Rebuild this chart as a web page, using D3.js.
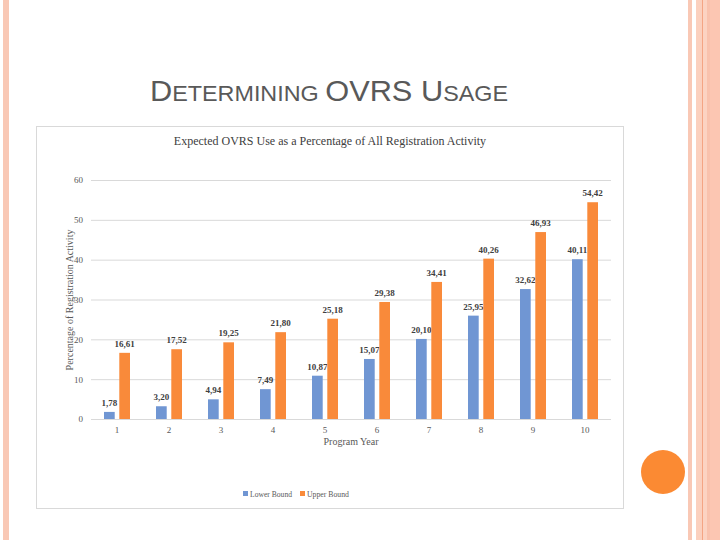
<!DOCTYPE html>
<html>
<head>
<meta charset="utf-8">
<script src="https://cdn.jsdelivr.net/npm/d3@7"></script>
<style>
  body{margin:0;background:#fff;}
  svg{display:block;}
</style>
</head>
<body>
<div class="container"></div>
<script>
// chart values
const years=["1","2","3","4","5","6","7","8","9","10"];
const lowerBound=[1.78,3.20,4.94,7.49,10.87,15.07,20.10,25.95,32.62,40.11];
const upperBound=[16.61,17.52,19.25,21.80,25.18,29.38,34.41,40.26,46.93,54.42];
const yTicks=[0,10,20,30,40,50,60];
const seriesNames=["Lower Bound","Upper Bound"];
const seriesColors=["#7096d3","#f98a3a"];

const svg=d3.select('.container')
  .append("svg")
  .attr("width",720)
  .attr("height",540);

// slide decoration
svg.append("rect").attr("x",3).attr("y",0).attr("width",6).attr("height",540).attr("fill","#f9c8b5");
svg.append("rect").attr("x",688).attr("y",0).attr("width",4).attr("height",540).attr("fill","#f9c8b5");
svg.append("rect").attr("x",696).attr("y",0).attr("width",6).attr("height",540).attr("fill","#fbd0be");
svg.append("rect").attr("x",702).attr("y",0).attr("width",1).attr("height",540).attr("fill","#f4a584");
svg.append("rect").attr("x",703).attr("y",0).attr("width",4).attr("height",540).attr("fill","#fcd3c2");
svg.append("rect").attr("x",707).attr("y",0).attr("width",3).attr("height",540).attr("fill","#f9c2ad");
svg.append("rect").attr("x",710).attr("y",0).attr("width",10).attr("height",540).attr("fill","#fcc6b2");
svg.append("circle").attr("cx",663).attr("cy",472).attr("r",22).attr("fill","#fb8a33");

// slide title (small caps)
let title=svg.append("text")
  .attr("x",150).attr("y",101)
  .attr("font-family","Liberation Sans, Arial, sans-serif")
  .attr("fill","#595959")
  .attr("textLength",358)
  .attr("lengthAdjust","spacingAndGlyphs");
[["D",29],["ETERMINING ",22],["OVRS U",29],["SAGE",22]].forEach(p=>{
  title.append("tspan").attr("font-size",p[1]).text(p[0]);
});

// chart frame
svg.append("rect")
  .attr("x",36.5).attr("y",126.5).attr("width",587).attr("height",382)
  .attr("fill","#fff").attr("stroke","#d9d9d9");

svg.append("text")
  .attr("x",330).attr("y",145)
  .attr("text-anchor","middle")
  .attr("font-family","Liberation Serif, Times New Roman, serif")
  .attr("font-size",12)
  .attr("fill","#404040")
  .text("Expected OVRS Use as a Percentage of All Registration Activity");

const margin={left:91,right:611,top:180,bottom:419};

let x=d3.scaleBand().domain(years).range([margin.left,margin.right]);
let y=d3.scaleLinear().domain([0,60]).range([margin.bottom,margin.top]);

// gridlines
svg.append("g")
  .selectAll("line")
  .data(yTicks)
  .enter()
  .append("line")
  .attr("x1",margin.left).attr("x2",margin.right)
  .attr("y1",d=>y(d)+0.5).attr("y2",d=>y(d)+0.5)
  .attr("stroke","#d9d9d9");

// y axis labels
let yAxis=svg.append("g")
  .attr("transform",`translate(${margin.left-8},0)`)
  .call(d3.axisLeft(y).tickValues(yTicks).tickSize(0).tickPadding(0));
yAxis.select(".domain").remove();
yAxis.selectAll("text")
  .attr("font-family","Liberation Serif, Times New Roman, serif")
  .attr("font-size",9)
  .attr("fill","#595959");

// x axis labels
let xAxis=svg.append("g")
  .attr("transform",`translate(0,${margin.bottom+8})`)
  .call(d3.axisBottom(x).tickSize(0).tickPadding(0));
xAxis.select(".domain").remove();
xAxis.selectAll("text")
  .attr("font-family","Liberation Serif, Times New Roman, serif")
  .attr("font-size",9)
  .attr("fill","#595959");

svg.append("text")
  .attr("x",x("5")+x.bandwidth())
  .attr("y",445)
  .attr("text-anchor","middle")
  .attr("font-family","Liberation Serif, Times New Roman, serif")
  .attr("font-size",10)
  .attr("fill","#595959")
  .text("Program Year");

svg.append("text")
  .attr("transform","translate(73,300) rotate(-90)")
  .attr("text-anchor","middle")
  .attr("font-family","Liberation Serif, Times New Roman, serif")
  .attr("font-size",10)
  .attr("fill","#595959")
  .text("Percentage of Registration Activity");

// bars
let inner=d3.scaleBand().domain([0,1]).range([0,26]).paddingInner(0.3);
let bx=(i,s)=>x(years[i])+x.bandwidth()/2-13+inner(s);

let series=[lowerBound,upperBound];
series.forEach((vals,s)=>{
  let g=svg.append("g");
  g.selectAll("rect")
    .data(vals)
    .enter()
    .append("rect")
    .attr("x",(d,i)=>bx(i,s))
    .attr("y",d=>y(d))
    .attr("width",inner.bandwidth())
    .attr("height",d=>y(0)-y(d))
    .attr("fill",seriesColors[s]);
  g.selectAll("text")
    .data(vals)
    .enter()
    .append("text")
    .attr("x",(d,i)=>bx(i,s)+inner.bandwidth()/2)
    .attr("y",d=>y(d)-6)
    .attr("text-anchor","middle")
    .attr("font-family","Liberation Serif, Times New Roman, serif")
    .attr("font-size",9)
    .attr("font-weight","bold")
    .attr("fill","#404040")
    .text(d=>d.toFixed(2).replace(".",","));
});

// legend
let legend=svg.append("g").attr("transform","translate(243,497)");
let lx=[0,57];
seriesNames.forEach((n,i)=>{
  legend.append("rect").attr("x",lx[i]).attr("y",-6).attr("width",5).attr("height",5).attr("fill",seriesColors[i]);
  legend.append("text")
    .attr("x",lx[i]+7).attr("y",0)
    .attr("font-family","Liberation Serif, Times New Roman, serif")
    .attr("font-size",9)
    .attr("fill","#595959")
    .attr("textLength",42)
    .attr("lengthAdjust","spacingAndGlyphs")
    .text(n);
});
</script>
</body>
</html>
